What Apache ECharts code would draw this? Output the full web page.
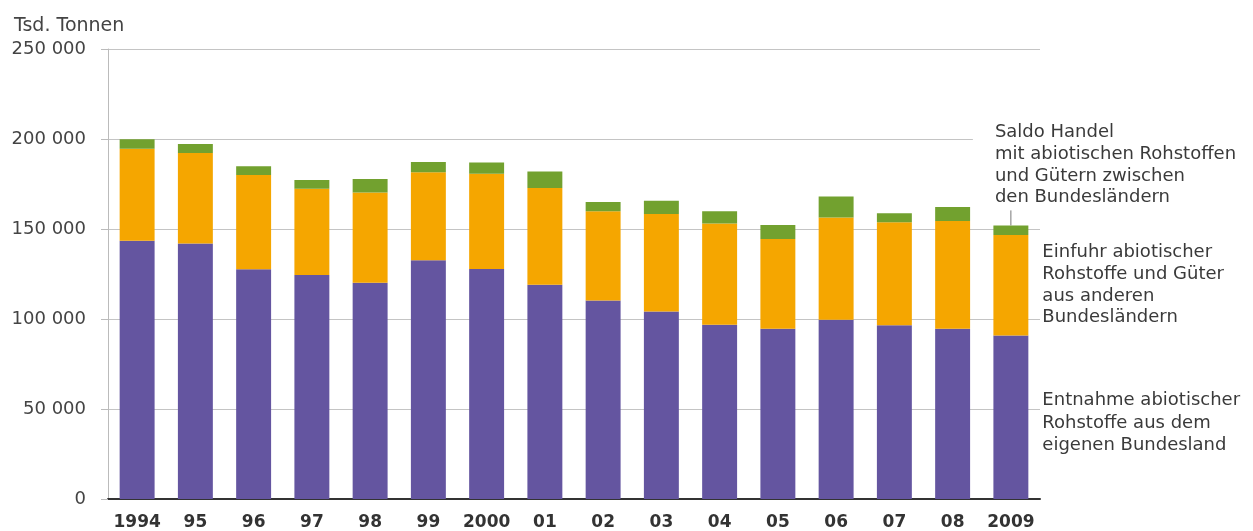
<!DOCTYPE html>
<html>
<head>
<meta charset="utf-8">
<script src="https://cdn.jsdelivr.net/npm/echarts@6/dist/echarts.min.js"></script>
<style>html,body{margin:0;padding:0;background:#fff;}#c{width:1253px;height:531px;}</style>
</head>
<body>
<div id="c"></div>
<script>
var categories = ['1994','95','96','97','98','99','2000','01','02','03','04','05','06','07','08','2009'];
var entnahme = [143500,142000,127600,124400,120200,132600,127800,119000,110300,104100,96800,94600,99600,96500,94600,90900];
var einfuhr = [51100,50200,52400,48000,50100,48900,52900,53800,49500,54200,56300,49800,56800,57200,59800,55800];
var saldo = [5200,5000,4800,4800,7500,5700,6300,9200,5200,7400,6700,7800,11700,5000,7800,5300];
var yTicks = [0,50000,100000,150000,200000,250000];
var seriesNames = [
  'Entnahme abiotischer\nRohstoffe aus dem\neigenen Bundesland',
  'Einfuhr abiotischer\nRohstoffe und Güter\naus anderen\nBundesländern',
  'Saldo Handel\nmit abiotischen Rohstoffen\nund Gütern zwischen\nden Bundesländern'
];
var unitLabel = 'Tsd. Tonnen';

var FONT = 'DejaVu Sans';
function fmt(v){ return String(v).replace(/\B(?=(\d{3})+(?!\d))/g, ' '); }
var last = categories.length - 1;

function withLabel(arr, labelCfg){
  return arr.map(function(v, i){
    if (i === last) return {value: v, label: labelCfg};
    return v;
  });
}

var sideLabel = function(text, lh, off){
  return {
    show: true, position: 'right', distance: 14, offset: off,
    formatter: text, color: '#3a3a3a', fontFamily: FONT, fontSize: 18,
    lineHeight: lh, align: 'left'
  };
};

var chart = echarts.init(document.getElementById('c'));
chart.setOption({
  animation: false,
  backgroundColor: '#fff',
  title: {
    text: unitLabel, left: 9, top: 12,
    textStyle: {fontFamily: FONT, fontSize: 19, fontWeight: 'normal', color: '#444'}
  },
  grid: {left: 108, right: 213, top: 49, bottom: 32, containLabel: false},
  xAxis: {
    type: 'category', data: categories,
    axisLine: {show: true, lineStyle: {color: '#333', width: 2}},
    axisTick: {show: false},
    axisLabel: {color: '#333', fontFamily: FONT, fontWeight: 'bold', fontSize: 17, margin: 15, interval: 0}
  },
  yAxis: {
    type: 'value', min: yTicks[0], max: yTicks[yTicks.length-1], interval: yTicks[1]-yTicks[0],
    axisLine: {show: true, lineStyle: {color: '#bbb', width: 1}},
    axisTick: {show: true, length: 7, lineStyle: {color: '#bbb'}},
    splitLine: {show: true, lineStyle: {color: '#c4c4c4', width: 1}},
    axisLabel: {color: '#444', fontFamily: FONT, fontSize: 18, margin: 22, formatter: fmt}
  },
  series: [
    {
      name: 'Entnahme', type: 'bar', stack: 'total', barWidth: '60%',
      itemStyle: {color: '#6455a0'},
      data: withLabel(entnahme, sideLabel(seriesNames[0], 22.5, [0, 6]))
    },
    {
      name: 'Einfuhr', type: 'bar', stack: 'total', barWidth: '60%',
      itemStyle: {color: '#f5a600'},
      data: withLabel(einfuhr, sideLabel(seriesNames[1], 21.7, [0, 0]))
    },
    {
      name: 'Saldo', type: 'bar', stack: 'total', barWidth: '60%',
      itemStyle: {color: '#72a12f'},
      data: withLabel(saldo, {
        show: true, position: 'top', distance: 0, align: 'left', verticalAlign: 'bottom',
        offset: [-38, -15],
        formatter: seriesNames[2], color: '#3a3a3a', fontFamily: FONT, fontSize: 18,
        lineHeight: 21.7, backgroundColor: '#fff', padding: [2, 0, 2, 22]
      })
    }
  ]
});

// leader line from the Saldo label down to the top of the last bar
var topVal = entnahme[last] + einfuhr[last] + saldo[last];
var p = chart.convertToPixel({seriesIndex: 2}, [categories[last], topVal]);
chart.setOption({
  graphic: [{
    type: 'line', silent: true, z: 10,
    shape: {x1: p[0], y1: p[1] - 15, x2: p[0], y2: p[1]},
    style: {stroke: '#777', lineWidth: 1}
  }]
});
</script>
</body>
</html>
